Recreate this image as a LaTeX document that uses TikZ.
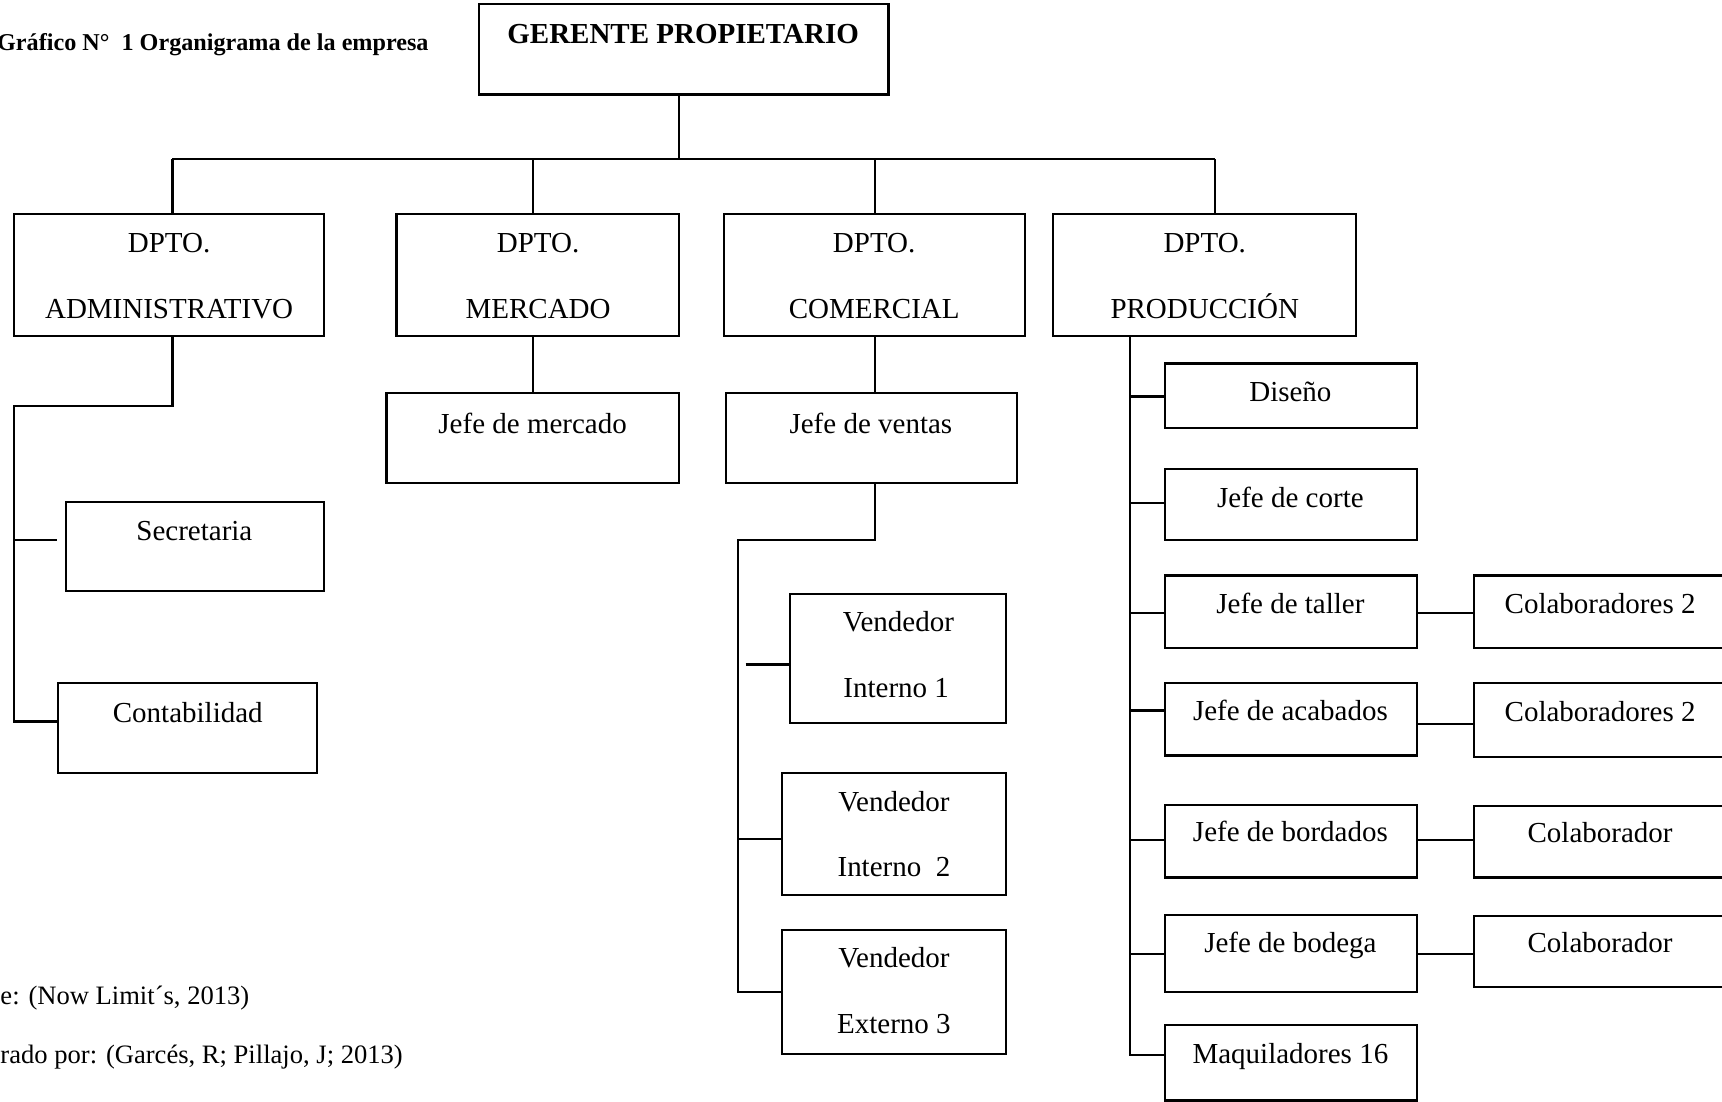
\documentclass[tikz,border=0pt]{standalone}
\usepackage{fontspec}
\setmainfont{Liberation Serif}
% one drawing unit = one pixel of a 1568 x 1003 sheet
\def\pxu{0.4545pt}
\tikzset{
  box/.style={draw, line width=0.9pt, inner sep=0pt, outer sep=0pt},
  link/.style={draw, line width=0.9pt},
  lbl/.style={inner sep=0pt, anchor=base, font=\fontsize{12}{14}\selectfont},
  note/.style={inner sep=0pt, anchor=base west, font=\fontsize{11}{13}\selectfont},
  heading/.style={inner sep=0pt, anchor=base west, font=\bfseries\fontsize{10}{12}\selectfont},
}
% empty framed box from its corners (x1,y1)-(x2,y2)
\newcommand\orgbox[5]{%
  \node[box, minimum width={((#4)-(#2))*\pxu}, minimum height={((#5)-(#3))*\pxu}]
    (#1) at ({((#2)+(#4))/2},{((#3)+(#5))/2}) {};}
\begin{document}
\begin{tikzpicture}[x=\pxu, y=-\pxu]
\useasboundingbox (0,0) rectangle (1568,1003);
\clip (0,0) rectangle (1568,1003);

% ---- boxes ----
\orgbox{ger}{436}{4}{809}{86}
\orgbox{adm}{13}{195}{295}{306}
\orgbox{mer}{361}{195}{618}{306}
\orgbox{com}{659}{195}{933}{306}
\orgbox{pro}{959}{195}{1235}{306}
\orgbox{sec}{60}{457}{295}{538}
\orgbox{con}{53}{622}{289}{704}
\orgbox{jme}{352}{358}{618}{440}
\orgbox{jve}{661}{358}{926}{440}
\orgbox{vi1}{719}{541}{916}{658}
\orgbox{vi2}{712}{704}{916}{815}
\orgbox{ve3}{712}{847}{916}{960}
\orgbox{dis}{1061}{331}{1290}{390}
\orgbox{cor}{1061}{427}{1290}{492}
\orgbox{tal}{1061}{524}{1290}{590}
\orgbox{aca}{1061}{622}{1290}{688}
\orgbox{bor}{1061}{733}{1290}{799}
\orgbox{bod}{1061}{833}{1290}{903}
\orgbox{maq}{1061}{933}{1290}{1002}
\orgbox{co1}{1342}{524}{1580}{590}
\orgbox{co2}{1342}{622}{1580}{689}
\orgbox{co3}{1342}{734}{1580}{799}
\orgbox{co4}{1342}{834}{1580}{899}

% ---- texts ----
\node[heading] (title) at (-3,46) {Gráfico N°\ \ 1 Organigrama de la empresa};
\node[lbl, font=\bfseries\fontsize{12}{14}\selectfont] (gerT) at (622,40) {GERENTE PROPIETARIO};
\node[lbl] (admT1) at (154,230) {DPTO.};
\node[lbl] (admT2) at (154,290) {ADMINISTRATIVO};
\node[lbl] (merT1) at (490,230) {DPTO.};
\node[lbl] (merT2) at (490,290) {MERCADO};
\node[lbl] (comT1) at (796,230) {DPTO.};
\node[lbl] (comT2) at (796,290) {COMERCIAL};
\node[lbl] (proT1) at (1097,230) {DPTO.};
\node[lbl] (proT2) at (1097,290) {PRODUCCIÓN};
\node[lbl] (secT) at (177,492) {Secretaria};
\node[lbl] (conT) at (171,658) {Contabilidad};
\node[lbl] (jmeT) at (485,395) {Jefe de mercado};
\node[lbl] (jveT) at (793,395) {Jefe de ventas};
\node[lbl] (vi1T1) at (818,575) {Vendedor};
\node[lbl] (vi1T2) at (816,635) {Interno 1};
\node[lbl] (vi2T1) at (814,739) {Vendedor};
\node[lbl] (vi2T2) at (814,798) {Interno\ \ 2};
\node[lbl] (ve3T1) at (814,881) {Vendedor};
\node[lbl] (ve3T2) at (814,941) {Externo 3};
\node[lbl] (disT) at (1175,366) {Diseño};
\node[lbl] (corT) at (1175,462) {Jefe de corte};
\node[lbl] (talT) at (1175,559) {Jefe de taller};
\node[lbl] (acaT) at (1175,656) {Jefe de acabados};
\node[lbl] (borT) at (1175,766) {Jefe de bordados};
\node[lbl] (bodT) at (1175,867) {Jefe de bodega};
\node[lbl] (maqT) at (1175,968) {Maquiladores 16};
\node[lbl] (co1T) at (1457,559) {Colaboradores 2};
\node[lbl] (co2T) at (1457,657) {Colaboradores 2};
\node[lbl] (co3T) at (1457,767) {Colaborador};
\node[lbl] (co4T) at (1457,867) {Colaborador};
\node[note] (fuente) at (0,915) {e: (Now Limit´s, 2013)};
\node[note] (elab) at (0,968) {rado por: (Garcés, R; Pillajo, J; 2013)};

% ---- top level: owner to departments ----
\coordinate (jG) at (618,145);
\coordinate (jA) at (157,145);
\coordinate (jM) at (485,145);
\coordinate (jC) at (797,145);
\coordinate (jP) at (1106,145);
\draw[link] (ger.south -| jG) -- (jG);
\draw[link] (jA) -- (jP);
\foreach \j/\b in {jA/adm, jM/mer, jC/com, jP/pro}
  \draw[link] (\j) -- (\b.north -| \j);

% ---- administration ----
\coordinate (aK) at (157,370);
\coordinate (aL) at (13,370);
\coordinate (aB) at (13,657);
\coordinate (sJ) at (13,492);
\coordinate (sE) at (52,492);
\draw[link] (adm.south -| aK) -- (aK) -- (aL) -- (aB) -- (con.west |- aB);
\draw[link] (sJ) -- (sE);

% ---- market ----
\draw[link] (mer.south -| jM) -- (jme.north -| jM);

% ---- sales ----
\draw[link] (com.south -| jC) -- (jve.north -| jC);
\coordinate (cK) at (797,492);
\coordinate (cL) at (672,492);
\coordinate (cB) at (672,903);
\coordinate (v2J) at (672,764);
\coordinate (v1S) at (679,605);
\draw[link] (jve.south -| cK) -- (cK) -- (cL) -- (cB) -- (ve3.west |- cB);
\draw[link] (v2J) -- (vi2.west |- v2J);
\draw[link] (v1S) -- (vi1.west |- v1S);

% ---- production ----
\coordinate (pB) at (1029,961);
\draw[link] (pro.south -| pB) -- (pB) -- (maq.west |- pB);
\foreach \b/\yy in {dis/361, cor/458, tal/558, aca/647, bor/765, bod/869}
  \draw[link] (pB |- 0,\yy) -- (\b.west |- 0,\yy);
\foreach \a/\b/\yy in {tal/co1/558, aca/co2/659, bor/co3/765, bod/co4/869}
  \draw[link] (\a.east |- 0,\yy) -- (\b.west |- 0,\yy);
\end{tikzpicture}
\end{document}
